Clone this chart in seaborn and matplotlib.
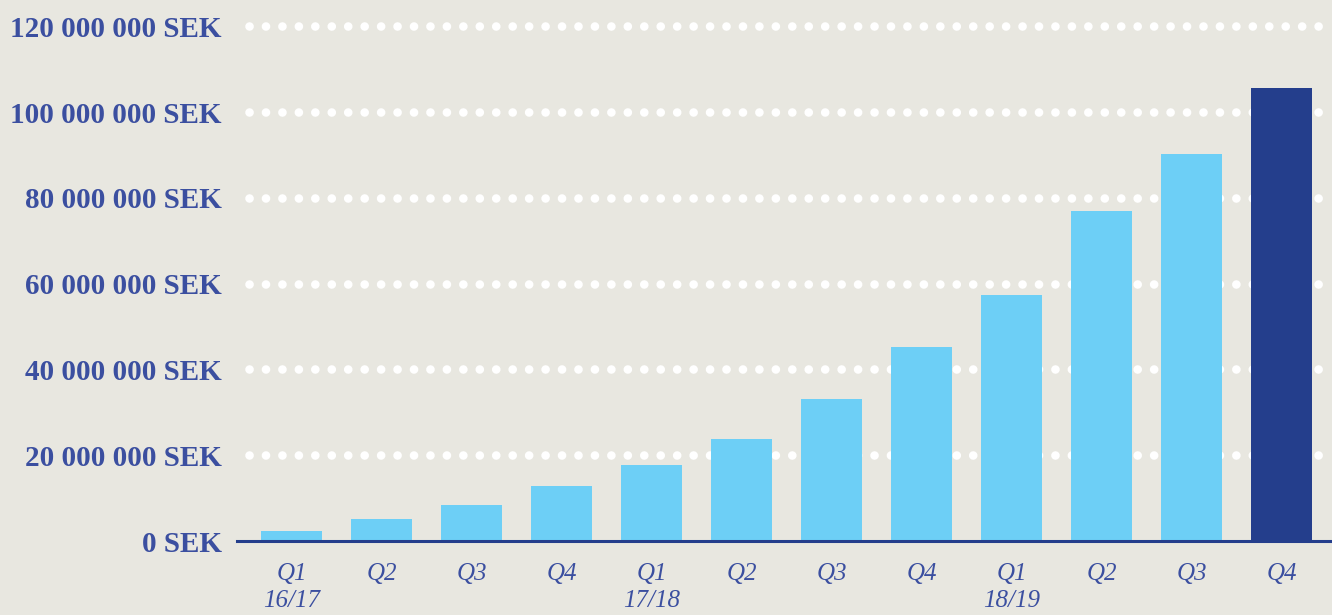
import matplotlib
matplotlib.use("Agg")
import matplotlib.pyplot as plt
import seaborn as sns
import pandas as pd

# --- Data ---
quarters = ["Q1", "Q2", "Q3", "Q4"] * 3
fiscal_years = ["16/17"] * 4 + ["17/18"] * 4 + ["18/19"] * 4
revenue_sek = [2.3e6, 5.1e6, 8.4e6, 12.8e6,
               17.7e6, 23.8e6, 33.1e6, 45.2e6,
               57.3e6, 76.9e6, 90.2e6, 105.6e6]
y_ticks = [0, 20e6, 40e6, 60e6, 80e6, 100e6, 120e6]

# --- Style ---
BG = "#e8e7e0"
LIGHT = "#6dcff6"
DARK = "#243e8c"
TEXT = "#3b4fa0"

sns.set_theme(style="white")
plt.rcParams["font.family"] = ["Liberation Serif", "DejaVu Serif"]

df = pd.DataFrame({
    "key": [f"{q} {y}" for q, y in zip(quarters, fiscal_years)],
    "revenue": revenue_sek,
})
colors = [LIGHT] * (len(df) - 1) + [DARK]

fig = plt.figure(figsize=(13.32, 6.15), dpi=100, facecolor=BG)
ax = fig.add_axes([237 / 1332, 74 / 615, 1 - 237 / 1332, 536 / 615])
ax.set_facecolor(BG)

sns.barplot(data=df, x="key", y="revenue", hue="key", palette=colors,
            width=0.68, saturation=1, legend=False, ax=ax, zorder=3,
            linewidth=0, edgecolor="none")

# dotted white gridlines (round caps on near-zero dashes give dots)
for t in y_ticks[1:]:
    ax.axhline(t, xmin=0.011, xmax=0.995, color="white", linewidth=6.2,
               linestyle=(0, (0.01, 1.9)), dash_capstyle="round", zorder=1)

ax.set_ylim(0, 125e6)
ax.set_xlim(-0.61, 11.56)

ax.set_yticks(y_ticks)
ax.set_yticklabels([f"{int(v):,}".replace(",", " ") + " SEK" for v in y_ticks],
                   fontsize=21, fontweight="bold", color=TEXT)

xlabels = []
for q, y in zip(quarters, fiscal_years):
    xlabels.append(f"{q}\n{y}" if q == "Q1" else q)
ax.set_xticks(range(len(df)))
ax.set_xticklabels(xlabels, fontsize=18, fontstyle="italic", color=TEXT,
                   va="top", linespacing=1.3)

ax.tick_params(axis="y", length=0, pad=11)
ax.tick_params(axis="x", length=0, pad=16)
ax.set_xlabel("")
ax.set_ylabel("")

for side in ["top", "right", "left"]:
    ax.spines[side].set_visible(False)
ax.spines["bottom"].set_color(DARK)
ax.spines["bottom"].set_linewidth(2.2)
ax.spines["bottom"].set_zorder(4)

fig.savefig("out.png", dpi=100, facecolor=BG)
